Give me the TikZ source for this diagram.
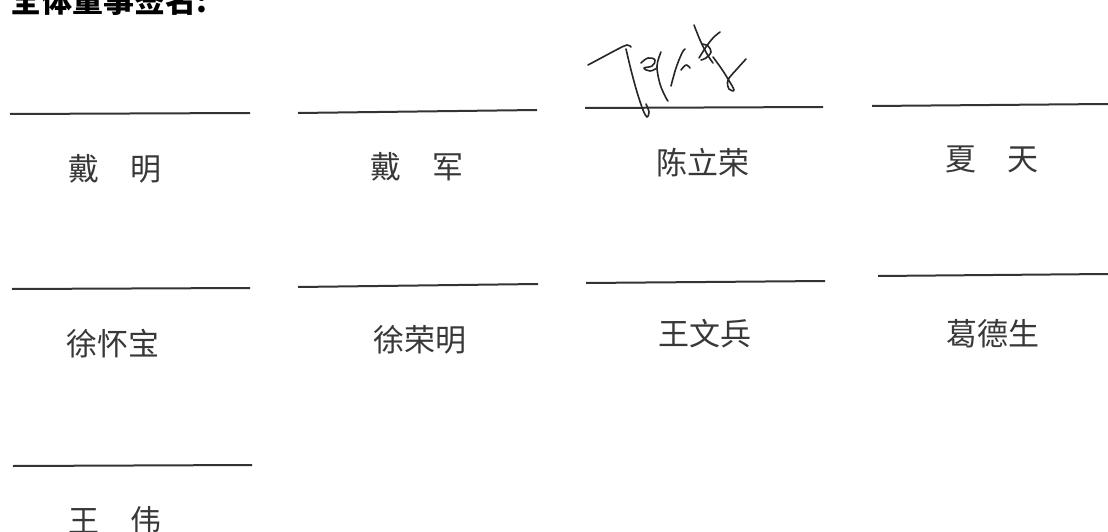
\documentclass[tikz,border=0pt]{standalone}
\usepackage{fontspec}
\newfontfamily\cjk{Noto Sans CJK SC}
\begin{document}
\begin{tikzpicture}[x=1pt,y=-1pt,
  namelabel/.style={anchor=base west,inner sep=0pt,text=black!78,font=\cjk\fontsize{31}{31}\selectfont},
  signline/.style={draw=black!80,line width=2pt},
  pen/.style={draw=black!85,line width=1.6pt,line cap=round,line join=round}]
\clip (0,0) rectangle (1108,532);
\fill[white] (0,0) rectangle (1108,532);
% title (cut off at top)
\node[anchor=base west,inner sep=0pt,font=\cjk\bfseries\fontsize{31}{31}\selectfont] (title) at (10,13) {全体董事签名:};
% signature lines
\draw[signline] (10,114) -- (250,113);
\draw[signline] (298,113) -- (537,110);
\draw[signline] (585,108) -- (823,107);
\draw[signline] (872,106) -- (1108,104);
\draw[signline] (12,289) -- (250,288);
\draw[signline] (298,287) -- (538,284);
\draw[signline] (586,283) -- (825,281);
\draw[signline] (878,276) -- (1108,274);
\draw[signline] (13,466) -- (252,465);
% names
\node[namelabel] (n1) at (68,180) {戴　明};
\node[namelabel] (n2) at (370,178) {戴　军};
\node[namelabel] (n3) at (656,175) {陈立荣};
\node[namelabel] (n4) at (945,171) {夏　天};
\node[namelabel] (n5) at (66,355) {徐怀宝};
\node[namelabel] (n6) at (373,351) {徐荣明};
\node[namelabel] (n7) at (658,345) {王文兵};
\node[namelabel] (n8) at (946,345) {葛德生};
\node[namelabel] (n9) at (68,532) {王　伟};
% handwritten signature
\draw[pen] plot[smooth,tension=0.6] coordinates {(588,65) (603,57) (618,49) (627,45) (631,47)};
\draw[pen] plot[smooth,tension=0.6] coordinates {(626,49) (631,70) (637,92) (643,110) (647,117) (649,112) (646,104)};
\draw[pen] plot[smooth,tension=0.7] coordinates {(641,63) (648,58) (655,60) (652,66) (644,68) (650,71) (657,68)};
\draw[pen] plot[smooth,tension=0.6] coordinates {(661,52) (657,66) (660,84) (666,98) (668,101)};
\draw[pen] plot[smooth,tension=0.6] coordinates {(671,86) (676,68) (682,53) (685,49)};
\draw[pen] plot[smooth,tension=0.6] coordinates {(681,70) (686,65) (690,68)};
\draw[pen] plot[smooth,tension=0.6] coordinates {(694,25) (700,40) (707,54) (713,63)};
\draw[pen] plot[smooth,tension=0.6] coordinates {(699,58) (706,47) (713,38) (720,32)};
\draw[pen] plot[smooth,tension=0.6] coordinates {(702,44) (708,46) (711,52) (706,58) (701,60)};
\draw[pen] plot[smooth,tension=0.6] coordinates {(713,57) (721,68) (728,79) (734,90) (729,89) (728,80) (737,69) (746,59)};
\end{tikzpicture}
\end{document}
